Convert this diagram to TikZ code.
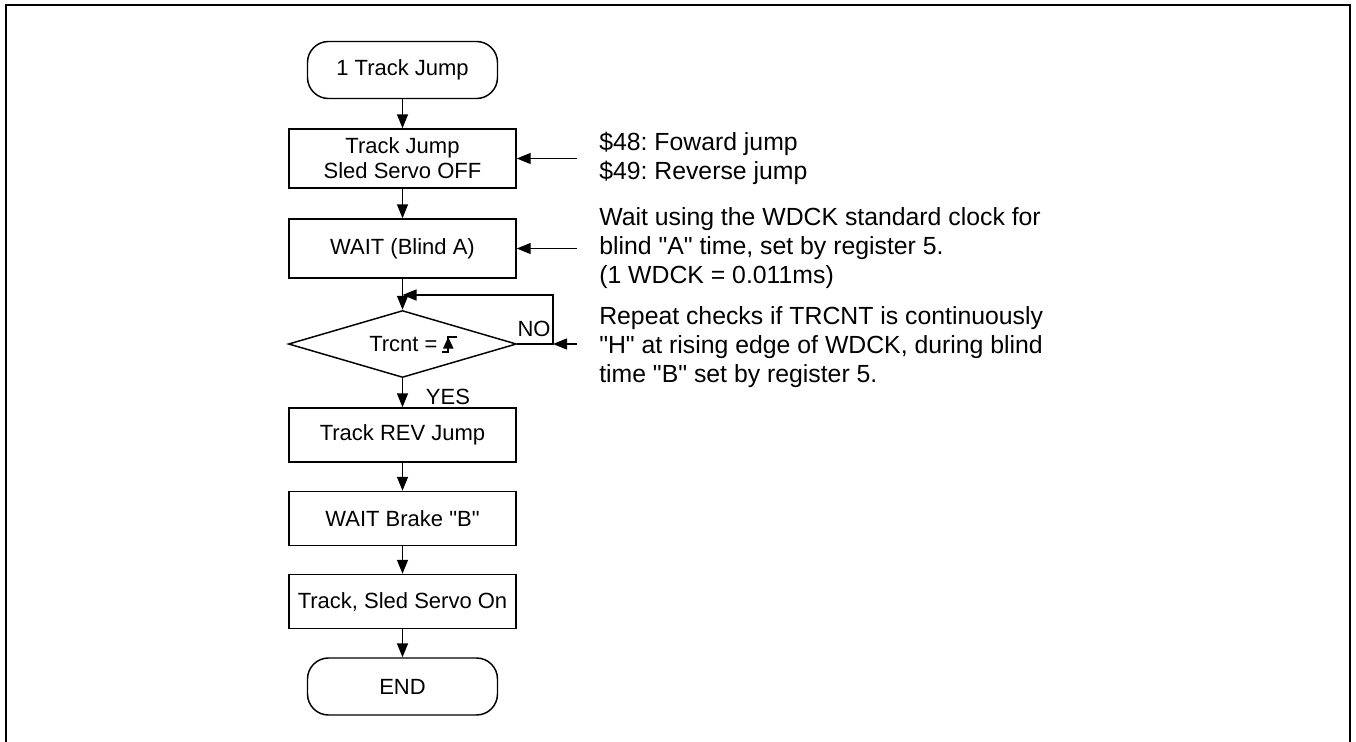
\documentclass[tikz,border=0pt]{standalone}
\usepackage{fontspec}
\setmainfont{Liberation Sans}
\usetikzlibrary{shapes.geometric,arrows.meta}
% straight double quote, set as a glyph so that no TeX mapping curls it
\newcommand\qmark{\XeTeXglyph\XeTeXcharglyph"22\relax}
\frenchspacing

\begin{document}
\begin{tikzpicture}[x=0.75pt,y=-0.75pt,
  every node/.style={font=\fontsize{16.5}{18.75}\selectfont, inner sep=0pt},
  flow/.style={line width=1.1pt, -{Triangle[length=10.5pt,width=8.25pt]}},
  procbox/.style={draw, line width=1.1pt, rectangle, minimum width=170.25pt, align=center},
  termbox/.style={draw, line width=1.1pt, rectangle, rounded corners=15.75pt,
                  minimum width=142.5pt, minimum height=42.75pt},
  decision/.style={draw, line width=1.1pt, diamond, minimum width=171pt, minimum height=50.25pt},
  note/.style={anchor=west, align=left, font=\fontsize{18.6}{21.5}\selectfont}
]
\useasboundingbox (0,0) rectangle (1356,742);
% outer frame (open at the bottom)
\draw[line width=1.5pt] (6,742) -- (6,5) -- (1350,5) -- (1350,742);

% flow chart column
\node[termbox] (start) at (402.5,70) {1 Track Jump};
\node[procbox, minimum height=44.25pt] (jump) at (402.5,158.5) {Track Jump\\Sled Servo OFF};
\node[procbox, minimum height=44.25pt] (blindA) at (402.5,248.5) {WAIT (Blind A)};
\node[decision] (check) at (402.5,344) {};
\node[anchor=west] (cond) at (369,344) {Trcnt =};
\node[procbox, minimum height=40.5pt] (rev) at (402.5,435) {Track REV Jump};
\node[procbox, minimum height=40.5pt] (brake) at (402.5,518.5) {WAIT Brake \qmark B\qmark};
\node[procbox, minimum height=40.5pt] (servo) at (402.5,601.5) {Track, Sled Servo On};
\node[termbox] (end) at (402.5,686.5) {END};

% rising edge symbol
\fill (443,348.5) -- (453.5,348.5) -- (448.2,337) -- cycle;
\draw[line width=1pt] (442,352) -- (448,352) -- (448,337) -- (457,337);

\node (no) at (534,328.5) {NO};
\node (yes) at (448,396.5) {YES};

% connectors
\draw[flow] (start) -- (jump);
\draw[flow] (jump) -- (blindA);
\draw[flow] (blindA) -- (check);
\draw[flow] (check) -- (rev);
\draw[flow] (rev) -- (brake);
\draw[flow] (brake) -- (servo);
\draw[flow] (servo) -- (end);

\coordinate (loopin) at (402.5,295);
\coordinate (loopr) at (553,344);
\draw[flow] (check.east) -- (loopr) -- (553,295) -- (loopin);

% annotations
\node[note] (note1) at (599,158.5) {\$48: Foward jump\\\$49: Reverse jump};
\node[note] (note2) at (599,248) {Wait using the WDCK standard clock for\\blind \qmark A\qmark{} time, set by register 5.\\(1 WDCK = 0.011ms)};
\node[note] (note3) at (599,347) {Repeat checks if TRCNT is continuously\\\qmark H\qmark{} at rising edge of WDCK, during blind\\time \qmark B\qmark{} set by register 5.};

\coordinate (n1) at (577,158.5);
\coordinate (n2) at (577,248.5);
\coordinate (n3) at (577,344);
\draw[flow] (n1) -- (jump.east);
\draw[flow] (n2) -- (blindA.east);
\draw[flow] (n3) -- (loopr);
\end{tikzpicture}
\end{document}
